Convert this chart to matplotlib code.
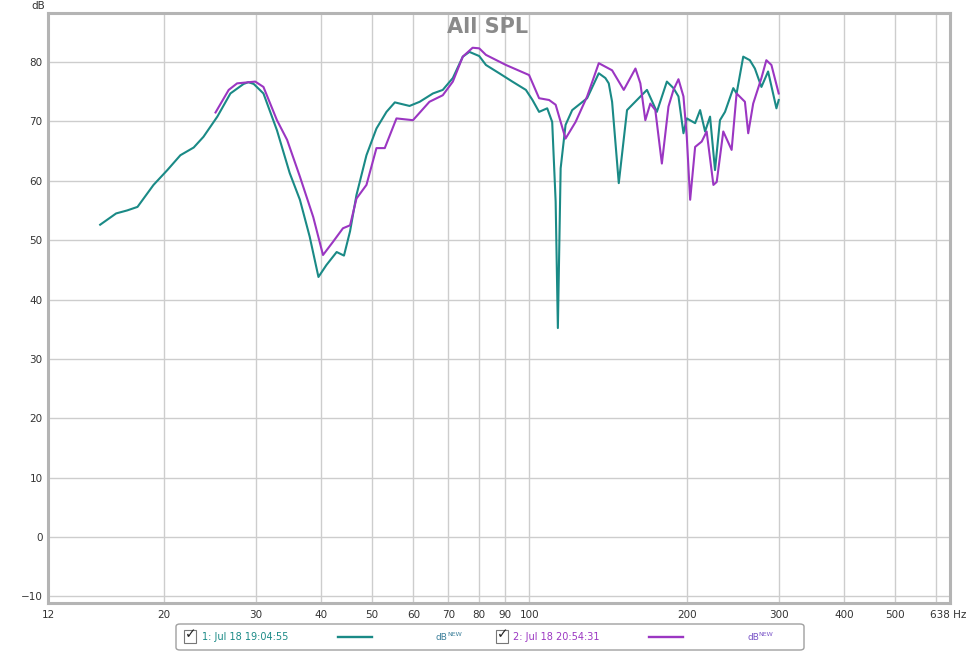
import matplotlib
matplotlib.use('Agg')
import matplotlib.pyplot as plt
import matplotlib.transforms as mtransforms
from matplotlib.patches import FancyBboxPatch, Rectangle
from matplotlib.lines import Line2D
from matplotlib.ticker import FixedLocator, FixedFormatter, NullFormatter

# measurement 1 (teal)
freq_1 = [15.1, 16.2, 17.0, 17.8, 19.1, 20.3, 21.5, 22.8, 23.8, 25.3, 26.8, 28.4, 29.0, 29.7,
          31.0, 32.9, 34.8, 36.4, 38.0, 39.5, 40.9, 42.8, 44.2, 45.4, 46.7, 48.8, 51.0,
          53.3, 55.3, 59.0, 61.7, 65.4, 68.3, 71.4, 74.6, 76.8, 80.2, 82.6, 87.6, 92.8,
          98.5, 101.4, 104.4, 108.2, 110.6, 112.3, 113.4, 114.8, 117.3, 120.8, 129.0,
          135.8, 139.8, 141.9, 144.0, 148.3, 153.8, 161.9, 167.9, 175.4, 183.3, 188.7,
          192.9, 197.2, 200.1, 207.6, 212.2, 216.9, 221.7, 226.6, 231.6, 236.8, 245.6,
          249.2, 256.6, 264.2, 270.1, 278.0, 286.3, 297.0, 300.0]
spl_1 = [52.6, 54.5, 55.0, 55.6, 59.3, 61.8, 64.3, 65.6, 67.4, 70.8, 74.7, 76.3, 76.6, 76.3,
         74.7, 68.5, 61.3, 56.8, 50.6, 43.8, 45.8, 48.0, 47.4, 51.5, 57.6, 64.3, 68.8,
         71.6, 73.2, 72.6, 73.3, 74.7, 75.3, 77.3, 80.9, 81.7, 81.0, 79.5, 78.1, 76.7,
         75.3, 73.6, 71.6, 72.2, 69.9, 56.5, 35.2, 62.1, 69.4, 71.9, 73.9,
         78.1, 77.3, 76.4, 73.3, 59.6, 71.9, 73.9, 75.3, 71.6, 76.7, 75.6,
         74.2, 68.0, 70.5, 69.7, 71.9, 68.3, 70.8, 61.8, 70.2, 71.6, 75.6,
         74.7, 80.9, 80.3, 78.9, 75.8, 78.4, 72.2, 73.6]

# measurement 2 (purple)
freq_2 = [25.1, 26.6, 27.6, 29.9, 31.0, 32.9, 34.4, 36.4, 38.6, 40.3, 42.1, 44.0, 45.4,
          46.7, 48.8, 51.0, 52.9, 55.7, 59.9, 64.4, 68.3, 71.4, 74.6, 77.9, 80.2, 82.6,
          90.2, 99.9, 104.4, 109.1, 112.3, 117.3, 122.6, 129.0, 135.8, 144.0, 151.6,
          159.6, 163.1, 166.7, 170.4, 174.2, 179.3, 184.6, 188.7, 192.9, 197.2, 200.1,
          203.1, 207.6, 213.7, 218.4, 225.0, 228.3, 235.0, 243.8, 249.2, 258.5, 262.3,
          268.1, 278.0, 284.1, 290.5, 300.0]
spl_2 = [71.5, 75.3, 76.4, 76.7, 75.8, 70.2, 66.9, 60.7, 53.9, 47.5, 49.7, 52.0, 52.5,
         57.0, 59.3, 65.5, 65.5, 70.5, 70.2, 73.3, 74.4, 76.7, 80.9, 82.4, 82.3, 81.2,
         79.5, 77.8, 73.9, 73.6, 72.8, 67.1, 69.9, 74.2, 79.8, 78.6, 75.3,
         78.9, 76.4, 70.2, 73.0, 71.9, 62.9, 72.5, 75.3, 77.1, 74.2, 67.4,
         56.8, 65.7, 66.6, 68.3, 59.3, 59.8, 68.3, 65.2, 74.7, 73.3, 68.0,
         73.0, 77.3, 80.3, 79.5, 74.7]

x_ticks = [12, 20, 30, 40, 50, 60, 70, 80, 90, 100, 200, 300, 400, 500, 638]
x_labels = ['12', '20', '30', '40', '50', '60', '70', '80', '90', '100',
            '200', '300', '400', '500', '638 Hz']
y_ticks = [-10, 0, 10, 20, 30, 40, 50, 60, 70, 80]
legend_names = ['1: Jul 18 19:04:55', '2: Jul 18 20:54:31']

TEAL = '#1a8a86'
PURPLE = '#9b36c2'
W, H = 975.0, 652.0


def fx(px):
    return px / W


def fy(py):
    return 1 - py / H


fig = plt.figure(figsize=(9.75, 6.52), dpi=100)
fig.patch.set_facecolor('white')
ax = fig.add_axes([fx(48), fy(603), 902 / W, 590 / H])

ax.plot(freq_1, spl_1, color=TEAL, lw=1.5, solid_joinstyle='round')
ax.plot(freq_2, spl_2, color=PURPLE, lw=1.5, solid_joinstyle='round')

ax.set_xscale('log')
ax.set_xlim(12, 638)
ax.set_ylim(-11.1, 88.25)
ax.xaxis.set_major_locator(FixedLocator(x_ticks))
ax.xaxis.set_major_formatter(FixedFormatter(x_labels))
ax.xaxis.set_minor_locator(FixedLocator([600]))
ax.xaxis.set_minor_formatter(NullFormatter())
ax.set_yticks(y_ticks)
ax.grid(True, which='both', color='#cdcdcd', lw=1.0)
ax.set_axisbelow(True)
ax.tick_params(which='both', length=0, labelsize=7.5, labelcolor='#333333')
ax.tick_params(axis='x', pad=5)
ax.tick_params(axis='y', pad=4)

# last label "638 Hz" sits a little to the left, text running right
last = ax.get_xticklabels()[-1]
last.set_horizontalalignment('left')
last.set_transform(last.get_transform() +
                   mtransforms.ScaledTranslation(-20 / 100, 0, fig.dpi_scale_trans))

for s in ax.spines.values():
    s.set_color('#b4b4b4')
    s.set_linewidth(2.2)

fig.text(fx(488), fy(17), 'All SPL', ha='center', va='top',
         fontsize=15, fontweight='bold', color='#8a8a8a')
fig.text(fx(38), fy(6), 'dB', fontsize=7.5, color='#333333', ha='center', va='center')

# legend strip
box = FancyBboxPatch((fx(176), fy(650)), 628 / W, 26 / H,
                     boxstyle='round,pad=0,rounding_size=0.004',
                     transform=fig.transFigure, fc='white', ec='#a0a0a0', lw=1.0)
fig.patches.append(box)

entries = [(184, 202, 338, 436, TEAL, '#3b7f9a', legend_names[0]),
           (496, 513, 649, 747, PURPLE, '#7a55c8', legend_names[1])]
for cb, tx, lx, dbx, col, dbcol, name in entries:
    fig.patches.append(Rectangle((fx(cb), fy(643)), 12 / W, 13 / H,
                                 transform=fig.transFigure, fc='white',
                                 ec='#777777', lw=0.8))
    fig.text(fx(cb + 7), fy(634), '\u2713', fontsize=10, fontweight='bold',
             color='#222222', ha='center', va='center')
    fig.text(fx(tx), fy(637), name, fontsize=7, color=col, ha='left', va='center')
    fig.lines.append(Line2D([fx(lx), fx(lx + 34)], [fy(637), fy(637)],
                            transform=fig.transFigure, color=col, lw=1.7))
    fig.text(fx(dbx), fy(637), 'dB', fontsize=6.5, color=dbcol, ha='left', va='center')
    fig.text(fx(dbx + 11), fy(634), 'NEW', fontsize=4.5, color=dbcol,
             ha='left', va='center')

fig.savefig('out.png', dpi=100)
